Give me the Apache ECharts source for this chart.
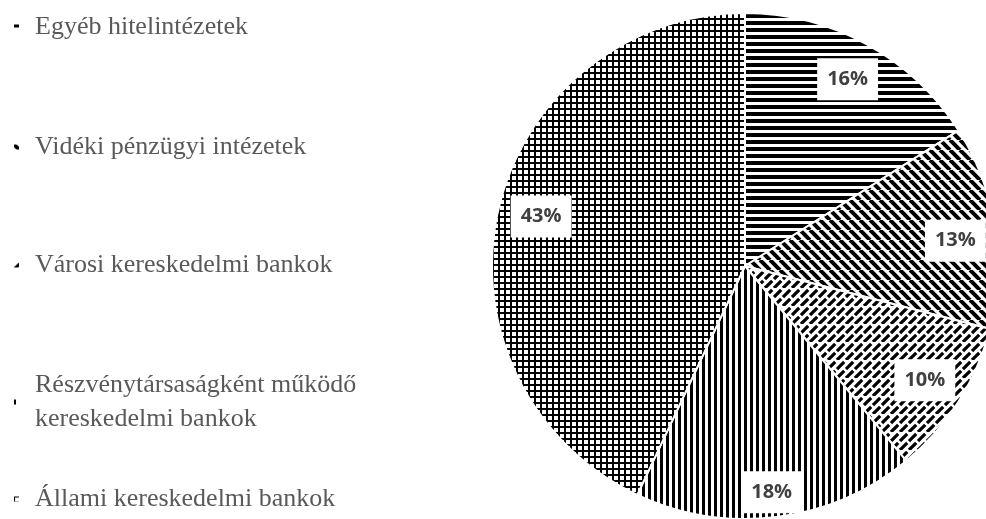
<!DOCTYPE html>
<html>
<head>
<meta charset="utf-8">
<script src="https://cdn.jsdelivr.net/npm/echarts@6/dist/echarts.min.js"></script>
<style>
html,body{margin:0;padding:0;background:#fff;}
#chart{width:986px;height:519px;}
</style>
</head>
<body>
<div id="chart"></div>
<script>
// ---- data ----
const categories = [
  'Egyéb hitelintézetek',
  'Vidéki pénzügyi intézetek',
  'Városi kereskedelmi bankok',
  'Részvénytársaságként működő\nkereskedelmi bankok',
  'Állami kereskedelmi bankok'
];
const values = [16, 13, 10, 18, 43];
const patternTypes = ['hlines', 'backslash', 'slashDash', 'vlines', 'grid'];

// ---- hatch patterns ----
function makePattern(type) {
  const c = document.createElement('canvas');
  const ctx = c.getContext('2d');
  let w = 8, h = 8;
  if (type === 'hlines') { w = 8; h = 7; }
  if (type === 'vlines') { w = 6; h = 8; }
  if (type === 'grid') { w = 6; h = 6; }
  if (type === 'backslash') { w = 10; h = 10; }
  if (type === 'slashDash') { w = 18; h = 18; }
  c.width = w; c.height = h;
  ctx.fillStyle = '#fff';
  ctx.fillRect(0, 0, w, h);
  ctx.fillStyle = '#000';
  ctx.strokeStyle = '#000';
  if (type === 'hlines') ctx.fillRect(0, 0, w, 4);
  if (type === 'vlines') ctx.fillRect(0, 0, 3, h);
  if (type === 'grid') { ctx.fillRect(0, 0, w, 2); ctx.fillRect(0, 0, 2, h); }
  if (type === 'backslash') {
    ctx.lineWidth = 4;
    for (let k = -w; k <= w; k += w) {
      ctx.beginPath(); ctx.moveTo(k, 0); ctx.lineTo(k + w, h); ctx.stroke();
    }
  }
  if (type === 'slashDash') {
    ctx.lineWidth = 3.2;
    ctx.setLineDash([10.2, 2.5]);
    for (let k = -w; k <= w; k += w / 2) {
      ctx.beginPath(); ctx.moveTo(k, h); ctx.lineTo(k + w, 0); ctx.stroke();
    }
  }
  return c;
}

const pieData = categories.map((name, i) => ({
  name: name,
  value: values[i],
  itemStyle: { color: { image: makePattern(patternTypes[i]), repeat: 'repeat' } }
}));
const labelData = categories.map((name, i) => ({ name: name, value: values[i] }));

const legendTops = [10, 130, 248, 368, 482];
const legends = categories.map((name, i) => ({
  data: [name],
  orient: 'vertical',
  left: 12,
  top: legendTops[i],
  padding: 0,
  icon: 'rect',
  itemWidth: 7,
  itemHeight: 7,
  selectedMode: false,
  textStyle: {
    fontFamily: 'Liberation Serif',
    fontSize: 26,
    lineHeight: 34,
    color: '#595959',
    padding: [0, 0, 0, 10]
  }
}));

const chart = echarts.init(document.getElementById('chart'), null, { renderer: 'canvas' });
chart.setOption({
  backgroundColor: '#fff',
  animation: false,
  legend: legends,
  series: [
    {
      type: 'pie',
      center: [745, 266],
      radius: 253,
      startAngle: 90,
      clockwise: true,
      silent: true,
      label: { show: false },
      labelLine: { show: false },
      itemStyle: { borderColor: '#fff', borderWidth: 2 },
      data: pieData
    },
    {
      type: 'pie',
      center: [745, 266],
      radius: [167, 253],
      startAngle: 90,
      clockwise: true,
      silent: true,
      itemStyle: { color: 'rgba(0,0,0,0)', borderWidth: 0 },
      labelLine: { show: false },
      label: {
        show: true,
        position: 'inside',
        formatter: '{c}%',
        fontFamily: 'Open Sans',
        fontWeight: 'bold',
        fontSize: 20,
        color: '#404040',
        backgroundColor: '#fff',
        padding: [11, 10]
      },
      labelLayout: function (params) {
        if (params.dataIndex === 1) return { dy: 8 };
        if (params.dataIndex === 3) return { dy: 15 };
        if (params.dataIndex === 4) return { dx: 4, dy: -3 };
        return {};
      },
      data: labelData
    }
  ]
});
</script>
</body>
</html>
